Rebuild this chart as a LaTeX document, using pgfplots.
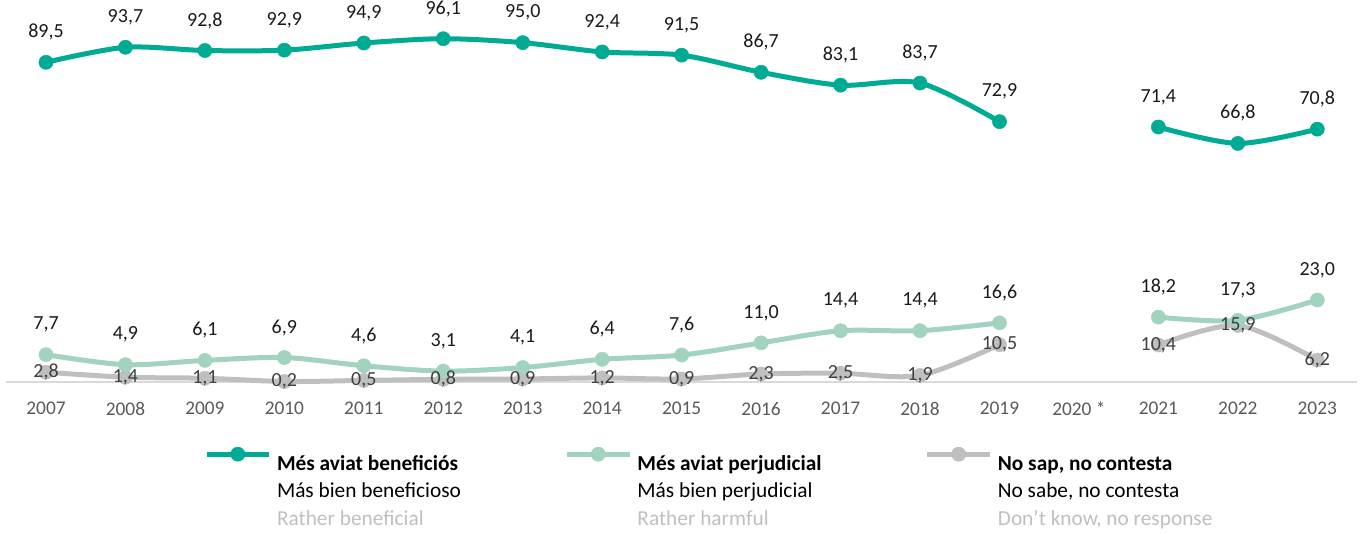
\documentclass[border=0pt]{standalone}
\usepackage{pgfplots}
\usepackage{pgfplotstable}
\usepackage{fontspec}
\setmainfont{Carlito}
\pgfplotsset{compat=1.18}
\definecolor{cmain}{HTML}{00AB93}
\definecolor{charm}{HTML}{A1D3BF}
\definecolor{cdk}{HTML}{BFBFBF}
\definecolor{ticktext}{HTML}{595959}
\definecolor{lbltext}{HTML}{1A1A1A}
\definecolor{dklbl}{HTML}{404040}
\definecolor{lgtext}{HTML}{BFBFBF}
\pgfplotstableread{
year main harm dk
2007 89.5 7.7 2.8
2008 93.7 4.9 1.4
2009 92.8 6.1 1.1
2010 92.9 6.9 0.2
2011 94.9 4.6 0.5
2012 96.1 3.1 0.8
2013 95.0 4.1 0.9
2014 92.4 6.4 1.2
2015 91.5 7.6 0.9
2016 86.7 11.0 2.3
2017 83.1 14.4 2.5
2018 83.7 14.4 1.9
2019 72.9 16.6 10.5
2020 nan nan nan
2021 71.4 18.2 10.4
2022 66.8 17.3 15.9
2023 70.8 23.0 6.2
}\data
\begin{document}
\begin{tikzpicture}
\begin{axis}[
  scale only axis, width=1012.8pt, height=268pt,
  xmin=2006.5, xmax=2023.5, ymin=0, ymax=100,
  axis x line=bottom, axis y line=none,
  x axis line style={draw=black!15, line width=1.5pt, -},
  xtick={2007,2008,2009,2010,2011,2012,2013,2014,2015,2016,2017,2018,2019,2020,2021,2022,2023},
  xticklabels={2007,2008,2009,2010,2011,2012,2013,2014,2015,2016,2017,2018,2019,2020 *,2021,2022,2023},
  major tick length=0pt,
  xticklabel style={font=\fontsize{14.5}{17}\selectfont, text=ticktext, yshift=-11.5pt},
  clip=false,
  unbounded coords=jump,
  every axis plot/.append style={line width=3.75pt, smooth, tension=0.5, mark=*, mark size=5.3pt, mark options={line width=0.4pt, solid}},
  lbl/.style={nodes near coords={\pgfmathprintnumber[fixed,fixed zerofill,precision=1,use comma,assume math mode=true]{\pgfplotspointmeta}},
  every node near coord/.append style={font=\fontsize{15}{18}\selectfont, text=lbltext, anchor=center, inner sep=0.5pt, yshift=22.5pt}},
  legend image code/.code={\draw[mark repeat=2,mark phase=2,#1] plot coordinates {(0pt,5.5pt) (23.5pt,5.5pt) (47pt,5.5pt)};},
  legend columns=3,
  legend cell align=left,
  legend style={draw=none, fill=none, inner sep=0pt, outer sep=0pt,
    at={(axis description cs:0.1464,-0.1816)}, anchor=north west,
    font=\fontsize{16}{20.6}\selectfont,
    nodes={inner sep=0pt},
    /tikz/every odd column/.append style={column sep=4pt},
    /tikz/every even column/.append style={column sep=25.5pt}},
]
\addlegendimage{color=cmain, line width=3.75pt, mark=*, mark size=5.3pt, mark options={line width=0.4pt, solid}}
\addlegendentry{\begin{tabular}[t]{@{}p{190pt}@{}}\textbf{Més aviat beneficiós}\\Más bien beneficioso\\\textcolor{lgtext}{Rather beneficial}\end{tabular}}
\addlegendimage{color=charm, line width=3.75pt, mark=*, mark size=5.3pt, mark options={line width=0.4pt, solid}}
\addlegendentry{\begin{tabular}[t]{@{}p{190pt}@{}}\textbf{Més aviat perjudicial}\\Más bien perjudicial\\\textcolor{lgtext}{Rather harmful}\end{tabular}}
\addlegendimage{color=cdk, line width=3.75pt, mark=*, mark size=5.3pt, mark options={line width=0.4pt, solid}}
\addlegendentry{\begin{tabular}[t]{@{}p{190pt}@{}}\textbf{No sap, no contesta}\\No sabe, no contesta\\\textcolor{lgtext}{Don’t know, no response}\end{tabular}}
\addplot[color=cdk, forget plot] table[x=year, y=dk] {\data};
\addplot[color=charm, forget plot, lbl] table[x=year, y=harm] {\data};
\addplot[color=cmain, forget plot, lbl] table[x=year, y=main] {\data};
\addplot[draw=none, mark=none, forget plot, lbl, every node near coord/.append style={text=dklbl, yshift=-22.5pt}] table[x=year, y=dk] {\data};
\path (rel axis cs:0,0) ++(-4.7pt,-113.5pt) coordinate (bbA);
\path (rel axis cs:1,1) ++(4.5pt,17.6pt) coordinate (bbB);
\end{axis}
\path (bbA) (bbB);
\end{tikzpicture}
\end{document}
